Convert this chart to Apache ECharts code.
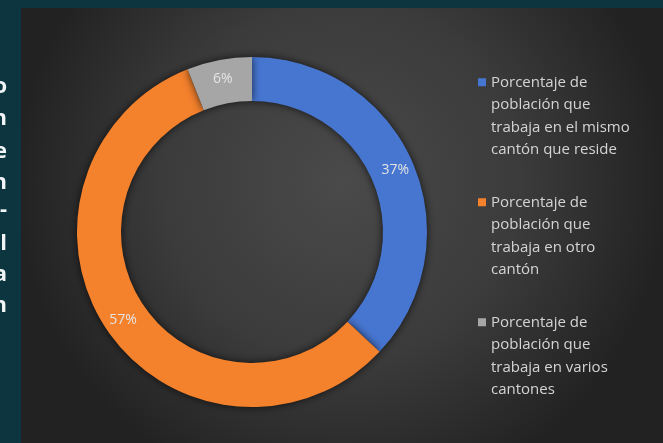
<!DOCTYPE html>
<html>
<head>
<meta charset="utf-8">
<script src="https://cdn.jsdelivr.net/npm/echarts@6/dist/echarts.min.js"></script>
<style>
html,body{margin:0;padding:0;background:#0d3540;}
#chart{width:663px;height:443px;}
</style>
</head>
<body>
<div id="chart"></div>
<script>
var categories = [
  'Porcentaje de población que trabaja en el mismo cantón que reside',
  'Porcentaje de población que trabaja en otro cantón',
  'Porcentaje de población que trabaja en varios cantones'
];
var values = [37, 57, 6];
var colors = ['#4776d1', '#f4812c', '#a6a6a6'];
var sideLetters = ['o', 'n', 'e', 'n', '-', 'l', 'a', 'n'];

function wrap(s, maxChars) {
  var words = s.split(' '), lines = [], cur = '';
  words.forEach(function (w) {
    if (cur && (cur + ' ' + w).length > maxChars) { lines.push(cur); cur = w; }
    else { cur = cur ? cur + ' ' + w : w; }
  });
  if (cur) lines.push(cur);
  return lines.join('\n');
}

var chart = echarts.init(document.getElementById('chart'));
var letterY = [90, 122, 155, 186, 213, 247, 278, 309];
var graphics = [{
  type: 'rect', z: -10, silent: true,
  shape: { x: 21, y: 8, width: 642, height: 435 },
  style: {
    fill: {
      type: 'radial', x: 0.5, y: 0.4, r: 0.75,
      colorStops: [
        { offset: 0, color: '#4a4a4a' },
        { offset: 0.55, color: '#3b3b3b' },
        { offset: 1, color: '#222222' }
      ]
    }
  }
}];
sideLetters.forEach(function (ch, i) {
  graphics.push({
    type: 'text', silent: true, x: 7, y: letterY[i] - 14,
    style: { text: ch, fill: '#f2f5f6', font: 'bold 22px "Open Sans", sans-serif', align: 'right' }
  });
});

// legend icon: an 8x8 square placed on the first text line, inside a tall box
var iconPath = 'path://M0,0h0.01v0.01h-0.01z M0,7.25h8v8h-8z M7.99,89.99h0.01v0.01h-0.01z';

chart.setOption({
  animation: false,
  backgroundColor: '#0d3540',
  graphic: graphics,
  legend: {
    orient: 'vertical',
    left: 478,
    top: 71,
    padding: 0,
    itemWidth: 8,
    itemHeight: 90,
    itemGap: 30,
    icon: iconPath,
    data: categories,
    formatter: function (name) { return wrap(name, 19); },
    textStyle: {
      color: '#d4d4d4',
      fontSize: 15,
      fontFamily: '"Open Sans", sans-serif',
      lineHeight: 22.5
    }
  },
  series: [{
    type: 'pie',
    center: [252, 232],
    radius: [131, 175],
    startAngle: 90,
    clockwise: true,
    avoidLabelOverlap: false,
    label: {
      show: true,
      position: 'inside',
      formatter: '{c}%',
      color: '#e4e4e4',
      fontSize: 14,
      fontFamily: '"Open Sans", sans-serif'
    },
    labelLine: { show: false },
    itemStyle: {
      borderWidth: 0,
      shadowBlur: 8,
      shadowColor: 'rgba(0,0,0,0.7)'
    },
    data: categories.map(function (c, i) {
      return { name: c, value: values[i], itemStyle: { color: colors[i] } };
    })
  }]
});
</script>
</body>
</html>
